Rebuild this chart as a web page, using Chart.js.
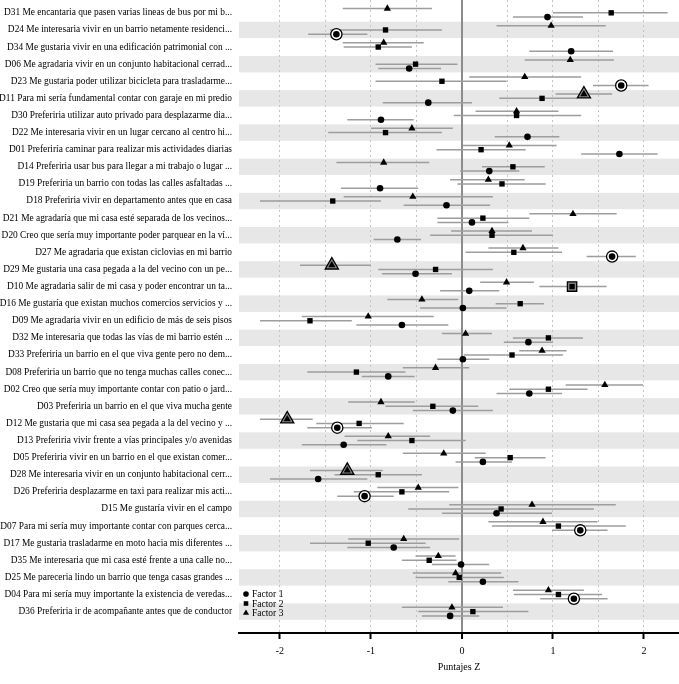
<!DOCTYPE html>
<html lang="es">
<head>
<meta charset="utf-8">
<title>Puntajes Z por factor</title>
<script src="https://cdn.jsdelivr.net/npm/chart.js@4.4.1/dist/chart.umd.min.js"></script>
<style>
  html, body { margin: 0; padding: 0; background: #fff; overflow: hidden; }
  canvas { display: block; }
</style>
</head>
<body>
<canvas id="grafico" width="679" height="684"></canvas>
<script>
// enunciados, de arriba hacia abajo
const enunciados = [
  "D31 Me encantaria que pasen varias lineas de bus por mi b...",
  "D24 Me interesaria vivir en un barrio netamente residenci...",
  "D34 Me gustaria vivir en una edificación patrimonial con ...",
  "D06 Me agradaria vivir en un conjunto habitacional cerrad...",
  "D23 Me gustaria poder utilizar bicicleta para trasladarme...",
  "D11 Para mi sería fundamental contar con garaje en mi predio",
  "D30 Preferiria utilizar auto privado para desplazarme dia...",
  "D22 Me interesaria vivir en un lugar cercano al centro hi...",
  "D01 Preferiría caminar para realizar mis actividades diarias",
  "D14 Preferiria usar bus para llegar a mi trabajo o lugar ...",
  "D19 Preferiria un barrio con todas las calles asfaltadas ...",
  "D18 Preferiria vivir en departamento antes que en casa",
  "D21 Me agradaría que mi casa esté separada de los vecinos...",
  "D20 Creo que sería muy importante poder parquear en la ví...",
  "D27 Me agradaria que existan ciclovias en mi barrio",
  "D29 Me gustaria una casa pegada a la del vecino con un pe...",
  "D10 Me agradaria salir de mi casa y poder encontrar un ta...",
  "D16 Me gustaría que existan muchos comercios servicios y ...",
  "D09 Me agradaria vivir en un edificio de más de seis pisos",
  "D32 Me interesaria que todas las vías de mi barrio estén ...",
  "D33 Preferiria un barrio en el que viva gente pero no dem...",
  "D08 Preferiria un barrio que no tenga muchas calles conec...",
  "D02 Creo que sería muy importante contar con patio o jard...",
  "D03 Preferiria un barrio en el que viva mucha gente",
  "D12 Me gustaria que mi casa sea pegada a la del vecino y ...",
  "D13 Preferiria vivir frente a vías principales y/o avenidas",
  "D05 Preferiria vivir en un barrio en el que existan comer...",
  "D28 Me interesaria vivir en un conjunto habitacional cerr...",
  "D26 Preferiria desplazarme en taxi para realizar mis acti...",
  "D15 Me gustaría vivir en el campo",
  "D07 Para mi sería muy importante contar con parques cerca...",
  "D17 Me gustaria trasladarme en moto hacia mis diferentes ...",
  "D35 Me interesaria que mi casa esté frente a una calle no...",
  "D25 Me pareceria lindo un barrio que tenga casas grandes ...",
  "D04 Para mi sería muy importante la existencia de veredas...",
  "D36 Preferiria ir de acompañante antes que de conductor"
];

// Factor 1 (circulo): puntaje z e intervalo
const factor1 = [0.94, -1.38, 1.20, -0.58, 1.75, -0.37, -0.89, 0.72, 1.73, 0.30, -0.90, -0.17,
  0.11, -0.71, 1.65, -0.51, 0.08, 0.01, -0.66, 0.73, 0.01, -0.81, 0.74, -0.10,
  -1.37, -1.30, 0.23, -1.58, -1.07, 0.38, 1.30, -0.75, -0.01, 0.23, 1.23, -0.13];
const factor1Inf = [0.56, -1.69, 0.74, -0.92, 1.44, -0.87, -1.26, 0.36, 1.31, -0.02, -1.33, -0.64,
  -0.27, -0.97, 1.37, -0.88, -0.24, -0.46, -1.16, 0.46, -0.27, -1.10, 0.38, -0.54,
  -1.70, -1.76, -0.07, -2.11, -1.37, -0.22, 0.99, -1.26, -0.33, -0.15, 0.86, -0.44];
const factor1Sup = [1.33, -1.04, 1.66, -0.23, 2.05, 0.11, -0.53, 1.07, 2.15, 0.63, -0.48, 0.31,
  0.51, -0.45, 1.91, -0.11, 0.41, 0.49, -0.15, 1.00, 0.30, -0.52, 1.10, 0.34,
  -0.99, -0.83, 0.55, -1.04, -0.75, 0.99, 1.60, -0.35, 0.30, 0.62, 1.60, 0.19];
const factor1Dist = [1, 4, 14, 24, 28, 30, 34];

// Factor 2 (cuadrado)
const factor2 = [1.64, -0.84, -0.92, -0.51, -0.22, 0.88, 0.60, -0.84, 0.21, 0.56, 0.44, -1.42,
  0.23, 0.33, 0.57, -0.29, 1.21, 0.64, -1.67, 0.95, 0.55, -1.16, 0.95, -0.32,
  -1.13, -0.55, 0.53, -0.92, -0.66, 0.43, 1.06, -1.03, -0.36, -0.03, 1.06, 0.12];
const factor2Inf = [1.00, -1.45, -1.30, -0.95, -0.95, 0.41, -0.09, -1.47, -0.28, 0.22, -0.05, -2.22,
  -0.27, -0.35, 0.04, -0.92, 0.85, 0.37, -2.22, 0.56, 0.02, -1.70, 0.52, -0.84,
  -1.60, -1.15, 0.14, -1.40, -1.19, -0.59, 0.33, -1.67, -0.66, -0.51, 0.57, -0.48];
const factor2Sup = [2.26, -0.22, -0.55, -0.05, 0.49, 1.26, 1.31, -0.22, 0.70, 0.91, 0.92, -0.89,
  0.74, 1.00, 1.10, 0.34, 1.59, 0.90, -1.21, 1.33, 1.11, -0.62, 1.38, 0.18,
  -0.64, 0.04, 0.92, -0.44, -0.14, 1.45, 1.80, -0.40, -0.06, 0.46, 1.54, 0.73];
const factor2Dist = [16];

// Factor 3 (triangulo)
const factor3 = [-0.82, 0.98, -0.86, 1.19, 0.69, 1.34, 0.60, -0.55, 0.52, -0.86, 0.29, -0.54,
  1.22, 0.33, 0.67, -1.43, 0.49, -0.44, -1.03, 0.04, 0.88, -0.29, 1.57, -0.89,
  -1.92, -0.81, -0.20, -1.26, -0.48, 0.77, 0.89, -0.64, -0.26, -0.07, 0.95, -0.11];
const factor3Inf = [-1.31, 0.38, -1.31, 0.69, 0.08, 1.03, 0.15, -1.00, 0.01, -1.38, -0.13, -1.30,
  0.74, -0.12, 0.29, -1.78, 0.20, -0.82, -1.76, -0.22, 0.63, -0.65, 1.14, -1.25,
  -2.22, -1.29, -0.65, -1.67, -0.93, -0.14, 0.29, -1.25, -0.51, -0.54, 0.56, -0.66];
const factor3Sup = [-0.33, 1.58, -0.42, 1.67, 1.31, 1.65, 1.06, -0.10, 1.04, -0.36, 0.69, 0.34,
  1.70, 0.77, 1.06, -1.00, 0.79, -0.04, -0.31, 0.33, 1.15, 0.08, 1.99, -0.52,
  -1.64, -0.35, 0.26, -0.87, -0.04, 1.69, 1.49, -0.03, -0.07, 0.43, 1.34, 0.45];
const factor3Dist = [5, 15, 24, 27];

const ticksX = [-2, -1.5, -1, -0.5, 0, 0.5, 1, 1.5, 2];
const nombresFactor = ["Factor 1", "Factor 2", "Factor 3"];

// --- estilos ---
const fuente = "'Liberation Serif', 'DejaVu Serif', serif";
const series = [
  { z: factor1, inf: factor1Inf, sup: factor1Sup, dist: factor1Dist, desp: 0.25, estilo: "circle", r: 3.3, rAro: 5.6 },
  { z: factor2, inf: factor2Inf, sup: factor2Sup, dist: factor2Dist, desp: 0, estilo: "rect", r: 3.8, rAro: 6.6 },
  { z: factor3, inf: factor3Inf, sup: factor3Sup, dist: factor3Dist, desp: -0.25, estilo: "triangle", r: 4.2, rAro: 7.6 }
];

// franjas grises alternadas detras de todo
const franjas = {
  id: "franjas",
  beforeDraw(chart) {
    const { ctx, chartArea: a, scales: { y } } = chart;
    ctx.save();
    ctx.fillStyle = "#e7e7e7";
    enunciados.forEach((_, i) => {
      if (i % 2 === 0) return;
      const y0 = y.getPixelForValue(i - 0.48);
      const y1 = y.getPixelForValue(i + 0.48);
      ctx.fillRect(a.left, Math.min(y0, y1), a.right - a.left, Math.abs(y1 - y0));
    });
    ctx.restore();
  }
};

// intervalos horizontales (barras de error)
const intervalos = {
  id: "intervalos",
  beforeDatasetsDraw(chart) {
    const { ctx, scales: { x, y } } = chart;
    ctx.save();
    ctx.strokeStyle = "#9d9d9d";
    ctx.lineWidth = 1.5;
    series.forEach(s => {
      s.inf.forEach((lo, i) => {
        const py = y.getPixelForValue(i + s.desp);
        ctx.beginPath();
        ctx.moveTo(x.getPixelForValue(lo), py);
        ctx.lineTo(x.getPixelForValue(s.sup[i]), py);
        ctx.stroke();
      });
    });
    ctx.restore();
  }
};

// leyenda dentro del area, abajo a la izquierda
const leyenda = {
  id: "leyenda",
  afterDraw(chart) {
    const { ctx, chartArea: a } = chart;
    ctx.save();
    ctx.fillStyle = "#000";
    ctx.strokeStyle = "#000";
    ctx.font = "9.5px " + fuente;
    ctx.textBaseline = "middle";
    series.forEach((s, k) => {
      const py = a.bottom - 39 + k * 9.5;
      Chart.helpers.drawPoint(ctx, { pointStyle: s.estilo, radius: s.r * 0.85, rotation: 0, borderWidth: 0 }, a.left + 7, py);
      ctx.fillText(nombresFactor[k], a.left + 13, py + 0.5);
    });
    ctx.restore();
  }
};

const datasets = [];
series.forEach((s, k) => {
  datasets.push({
    label: nombresFactor[k],
    data: s.z.map((v, i) => ({ x: v, y: i + s.desp })),
    pointStyle: s.estilo,
    pointRadius: s.r,
    backgroundColor: "#000",
    borderColor: "#000",
    borderWidth: 0
  });
});
// aros de los enunciados distintivos (se dibujan debajo)
series.forEach((s, k) => {
  datasets.push({
    label: nombresFactor[k] + " distintivo",
    data: s.dist.map(i => ({ x: s.z[i], y: i + s.desp })),
    pointStyle: s.estilo,
    pointRadius: s.rAro,
    backgroundColor: s.estilo === "circle" ? "#fff" : "#8a8a8a",
    borderColor: "#000",
    borderWidth: 1.3
  });
});

new Chart(document.getElementById("grafico"), {
  type: "scatter",
  data: { datasets },
  plugins: [franjas, intervalos, leyenda],
  options: {
    responsive: false,
    animation: false,
    layout: { padding: 0, autoPadding: false },
    plugins: { legend: { display: false }, tooltip: { enabled: false } },
    scales: {
      x: {
        type: "linear",
        min: -2.45,
        max: 2.385,
        afterBuildTicks: ax => { ax.ticks = ticksX.map(v => ({ value: v })); },
        afterFit: ax => { ax.height = 51; ax.paddingLeft = 0; ax.paddingRight = 0; },
        grid: {
          color: c => (c.tick && c.tick.value === 0) ? "#8c8c8c" : "#c4c4c4",
          lineWidth: c => (c.tick && c.tick.value === 0) ? 2 : 1,
          tickColor: c => (c.tick && Number.isInteger(c.tick.value)) ? "#000" : "rgba(0,0,0,0)",
          tickLength: 6,
          tickWidth: 2
        },
        border: {
          display: true,
          color: "#000",
          width: 2,
          dash: c => (c.type === "tick" && c.tick.value !== 0) ? [2, 3] : []
        },
        ticks: {
          autoSkip: false,
          maxRotation: 0,
          padding: 6,
          color: "#000",
          font: { family: fuente, size: 10 },
          callback: v => Number.isInteger(v) ? String(v) : ""
        },
        title: {
          display: true,
          text: "Puntajes Z",
          color: "#000",
          font: { family: fuente, size: 10 },
          padding: { top: 4, bottom: 11 }
        }
      },
      y: {
        type: "linear",
        reverse: true,
        min: -0.75,
        max: 36.25,
        afterBuildTicks: ax => { ax.ticks = enunciados.map((_, i) => ({ value: i })); },
        afterFit: ax => { ax.width = 239; ax.paddingTop = 0; ax.paddingBottom = 0; },
        grid: { display: false, drawTicks: false },
        border: { display: false },
        ticks: {
          autoSkip: false,
          padding: 7,
          color: "#000",
          font: { family: fuente, size: 9.4 },
          callback: (v, i) => enunciados[i]
        }
      }
    }
  }
});
</script>
</body>
</html>
